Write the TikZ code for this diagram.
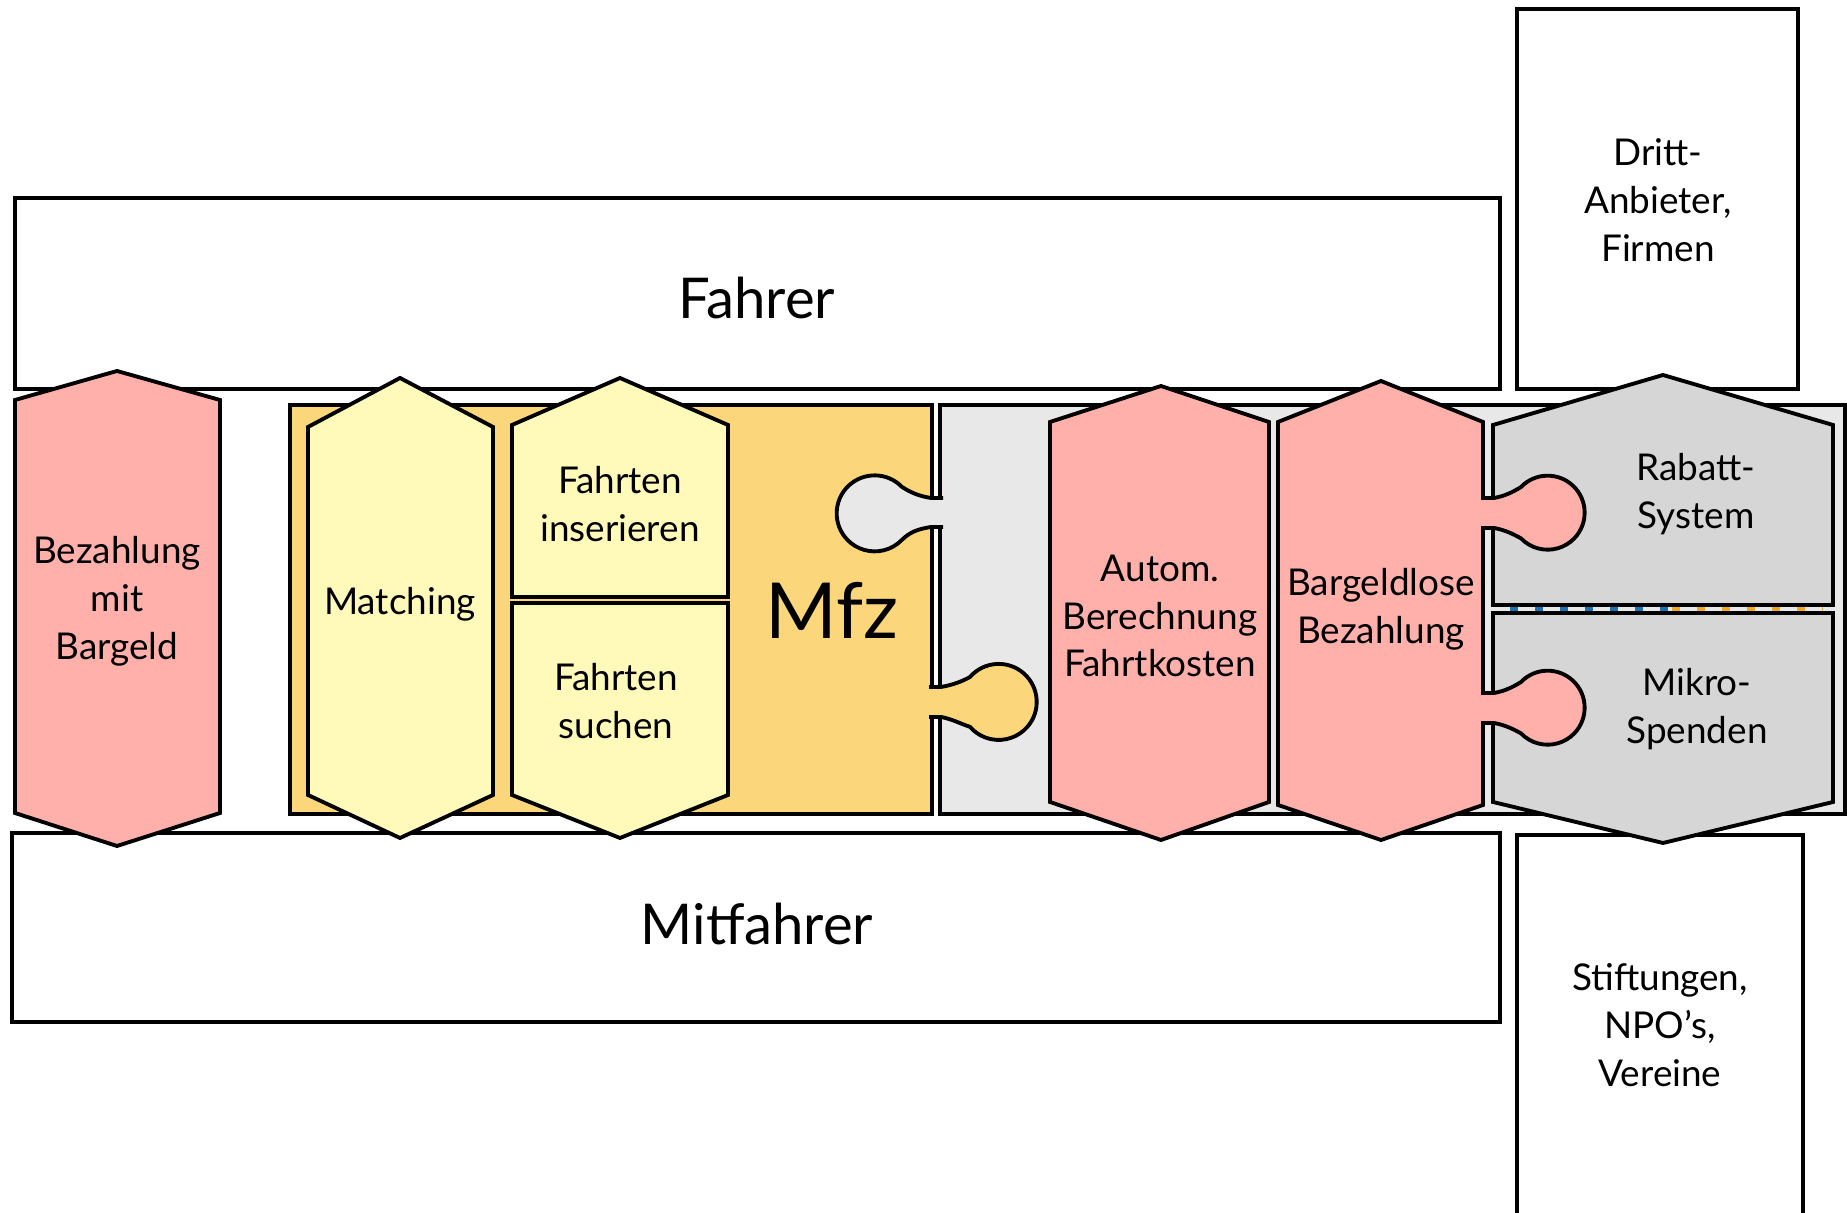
\documentclass[tikz,border=0pt]{standalone}
\usepackage{fontspec}
\setmainfont{Lato}
\definecolor{mpink}{rgb}{1.0, 0.69, 0.67}
\definecolor{myellow}{rgb}{1.0, 0.98, 0.73}
\definecolor{morange}{rgb}{0.99, 0.84, 0.48}
\definecolor{mgray}{rgb}{0.91, 0.91, 0.91}
\definecolor{mgrey}{rgb}{0.84, 0.84, 0.84}
\definecolor{mblue}{rgb}{0.1, 0.45, 0.7}
\definecolor{mamber}{rgb}{0.96, 0.65, 0.14}
\tikzset{frame/.style = {draw, line width = 1.1pt}}
\tikzset{lbl/.style = {align = center, font = \fontsize{10.5}{13.6}\selectfont}}
\tikzset{big/.style = {font = \fontsize{16}{19}\selectfont}}
\tikzset{seam/.style = {line width = 1.2pt, dash pattern = on 0.8mm off 1.7mm}}

\begin{document}
\begin{tikzpicture}[x = 0.1mm, y = 0.1mm]
  \useasboundingbox (0, 0) rectangle (1847, 1212);

  % users and partners
  \draw [frame] (15, 823) rectangle (1500, 1014);
  \draw [frame] (12, 190) rectangle (1500, 379);
  \draw [frame] (1517, 823) rectangle (1798, 1203);
  \draw [frame] (1517, -10) rectangle (1803, 377);

  % the two platform blocks
  \fill [morange] (290, 398) rectangle (932, 807);
  \fill [mgray] (940, 398) rectangle (1845, 807);
  \draw [frame] (932, 714) -- (932, 807) -- (290, 807) -- (290, 398) -- (932, 398) -- (932, 495);
  \draw [frame] (932, 525) -- (932, 685);
  \draw [frame] (940, 714) -- (940, 807) -- (1845, 807) -- (1845, 398) -- (940, 398) -- (940, 495);
  \draw [frame] (940, 525) -- (940, 685);

  \filldraw [frame, fill = mgray] (943, 714) -- (931, 714) .. controls (918, 716) and (910, 720) .. (902, 725)
    arc [start angle = 44, end angle = 316, radius = 38] .. controls (910, 680) and (918, 683) .. (931, 685) -- (943, 685);
  \filldraw [frame, fill = morange] (929, 525) -- (941, 525) .. controls (952, 527) and (961, 530) .. (970, 535)
    arc [start angle = 139, end angle = -139, radius = 38] .. controls (961, 488) and (952, 493) .. (941, 495) -- (929, 495);

  % modules
  \draw [frame, fill = mpink] (15, 812) -- (117, 841) -- (220, 812) -- (220, 399) -- (117, 366) -- (15, 399) -- cycle;
  \draw [frame, fill = myellow] (308, 785) -- (400, 834) -- (493, 785) -- (493, 417) -- (400, 374) -- (308, 417) -- cycle;
  \draw [frame, fill = myellow] (512, 615) -- (512, 787) -- (620, 834) -- (728, 787) -- (728, 615) -- cycle;
  \draw [frame, fill = myellow] (512, 609) -- (728, 609) -- (728, 417) -- (620, 374) -- (512, 417) -- cycle;
  \draw [frame, fill = mpink] (1050, 790) -- (1161, 826) -- (1269, 790) -- (1269, 410) -- (1161, 372) -- (1050, 410) -- cycle;
  \draw [frame, fill = mpink] (1278, 790) -- (1381, 831) -- (1483, 790) -- (1483, 407) -- (1381, 372) -- (1278, 407) -- cycle;
  \draw [frame, fill = mgrey] (1493, 607) -- (1493, 787) -- (1663, 837) -- (1833, 787) -- (1833, 607) -- cycle;
  \draw [frame, fill = mgrey] (1493, 599) -- (1833, 599) -- (1833, 410) -- (1663, 369) -- (1493, 410) -- cycle;
  \draw [seam, mblue] (1510, 603) -- (1672, 603);
  \draw [seam, mamber] (1672, 603) -- (1823, 603);

  \filldraw [frame, fill = mpink] (1481, 714) -- (1494, 714) .. controls (1505, 716) and (1513, 720) .. (1521, 725)
    arc [start angle = 136, end angle = -136, radius = 37] .. controls (1513, 678) and (1505, 682) .. (1494, 684) -- (1481, 684);
  \filldraw [frame, fill = mpink] (1481, 519) -- (1494, 519) .. controls (1505, 521) and (1513, 525) .. (1521, 530)
    arc [start angle = 136, end angle = -136, radius = 37] .. controls (1513, 483) and (1505, 487) .. (1494, 489) -- (1481, 489);

  % labels
  \node [big] (fahrer) at (757, 914) {Fahrer};
  \node [big] (mitfahrer) at (757, 288) {Mitfahrer};
  \node [lbl] (dritt) at (1658, 1012) {Dritt-\\Anbieter,\\Firmen};
  \node [lbl] (stift) at (1660, 187) {Stiftungen,\\NPO’s,\\Vereine};
  \node [lbl] (bar) at (117, 611) {Bezahlung\\mit\\Bargeld};
  \node [lbl] (match) at (400, 608) {Matching};
  \node [lbl] (ins) at (620, 708) {Fahrten\\inserieren};
  \node [lbl] (such) at (616, 511) {Fahrten\\suchen};
  \node [font = \fontsize{22}{26}\selectfont] (mfz) at (832, 602) {Mfz};
  \node [lbl] (kosten) at (1160, 596) {Autom.\\Berechnung\\Fahrtkosten};
  \node [lbl] (los) at (1381, 603) {Bargeldlose\\Bezahlung};
  \node [lbl] (rabatt) at (1696, 718) {Rabatt-\\System};
  \node [lbl] (mikro) at (1697, 503) {Mikro-\\Spenden};
\end{tikzpicture}
\end{document}
